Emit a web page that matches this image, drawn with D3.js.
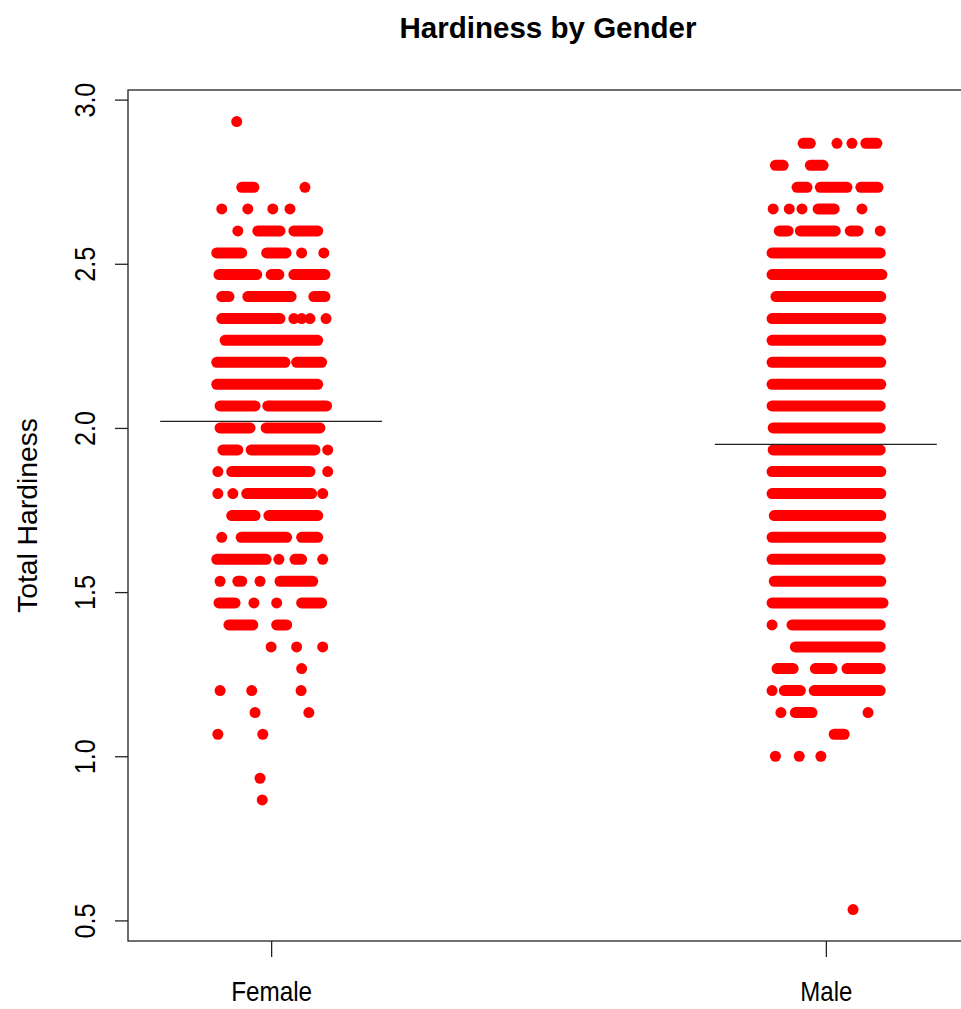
<!DOCTYPE html>
<html>
<head>
<meta charset="utf-8">
<script src="https://cdn.jsdelivr.net/npm/d3@7"></script>
<style>
  body { margin: 0; background: white; }
  text { font-family: "Liberation Sans", Arial, sans-serif; fill: #000; }
</style>
</head>
<body>
<svg width="961" height="1009"></svg>
<script>
const svg = d3.select('svg');
svg.style("background-color", "white");

const width = +svg.attr('width')
const height = +svg.attr('height')

// groups on the x axis, and mean hardiness of each group
const groups = ["Female", "Male"]
const groupMeans = [2.02, 1.95]
const yTicks = [0.5, 1.0, 1.5, 2.0, 2.5, 3.0]

// hardiness levels (score / 15) that have points, top to bottom
const femaleLevels = [2.933, 2.733, 2.667, 2.6, 2.533, 2.467, 2.4, 2.333, 2.267, 2.2, 2.133, 2.067, 2.0,
  1.933, 1.867, 1.8, 1.733, 1.667, 1.6, 1.533, 1.467, 1.4, 1.333, 1.267, 1.2, 1.133, 1.067, 0.933, 0.867]
// jitter offsets of the points on each level: a number is one point,
// a pair is a run of overlapping points from first to last
const femaleJitter = [
  [-0.062],
  [[-0.053, -0.031], 0.061],
  [-0.089, -0.042, 0.003, 0.034],
  [-0.060, [-0.024, 0.016], [0.041, 0.084]],
  [[-0.098, -0.053], [-0.008, 0.027], 0.055, 0.095],
  [[-0.094, -0.026], [0.000, 0.014], [0.041, 0.097]],
  [[-0.089, -0.076], [-0.042, 0.036], [0.077, 0.097]],
  [[-0.089, 0.016], 0.041, 0.055, 0.070, 0.099],
  [[-0.083, 0.084]],
  [[-0.098, 0.025], [0.046, 0.091]],
  [[-0.098, 0.084]],
  [[-0.092, -0.029], [-0.006, 0.100]],
  [[-0.092, -0.038], [-0.009, 0.088]],
  [[-0.087, -0.060], [-0.036, 0.079], 0.102],
  [-0.096, [-0.071, 0.070], 0.102],
  [-0.096, -0.069, [-0.044, 0.073], 0.093],
  [[-0.071, -0.029], [-0.004, 0.084]],
  [-0.089, [-0.054, 0.028], [0.055, 0.084]],
  [[-0.098, -0.009], 0.014, [0.043, 0.055], 0.093],
  [-0.092, [-0.060, -0.053], -0.020, [0.016, 0.075]],
  [[-0.094, -0.065], -0.031, 0.010, [0.055, 0.091]],
  [[-0.076, -0.033], [0.010, 0.028]],
  [0.000, 0.046, 0.093],
  [0.055],
  [-0.092, -0.035, 0.054],
  [-0.029, 0.068],
  [-0.096, -0.015],
  [-0.020],
  [-0.016]
]

const maleLevels = [2.867, 2.8, 2.733, 2.667, 2.6, 2.533, 2.467, 2.4, 2.333, 2.267, 2.2, 2.133, 2.067, 2.0,
  1.933, 1.867, 1.8, 1.733, 1.667, 1.6, 1.533, 1.467, 1.4, 1.333, 1.267, 1.2, 1.133, 1.067, 1.0, 0.533]
const maleJitter = [
  [[-0.041, -0.028], 0.020, 0.047, [0.072, 0.092]],
  [[-0.091, -0.077], [-0.028, -0.005]],
  [[-0.052, -0.034], [-0.010, 0.038], [0.063, 0.094]],
  [-0.095, -0.066, -0.043, [-0.014, 0.015], 0.065],
  [[-0.084, -0.068], [-0.046, 0.017], [0.044, 0.058], 0.098],
  [[-0.097, 0.098]],
  [[-0.097, 0.101]],
  [[-0.090, 0.099]],
  [[-0.097, 0.099]],
  [[-0.097, 0.099]],
  [[-0.097, 0.099]],
  [[-0.097, 0.099]],
  [[-0.097, 0.098]],
  [[-0.095, 0.098]],
  [[-0.095, 0.098]],
  [[-0.097, 0.099]],
  [[-0.097, 0.099]],
  [[-0.093, 0.099]],
  [[-0.097, 0.099]],
  [[-0.097, 0.098]],
  [[-0.093, 0.099]],
  [[-0.097, 0.103]],
  [-0.097, [-0.061, 0.098]],
  [[-0.055, 0.098]],
  [[-0.088, -0.059], [-0.019, 0.011], [0.038, 0.098]],
  [-0.097, [-0.075, -0.046], [-0.021, 0.098]],
  [-0.081, [-0.055, -0.025], 0.076],
  [[0.015, 0.033]],
  [-0.091, -0.048, -0.009],
  [0.049]
]

const render = () => {
    const margin = {top:90,bottom:68,right:-8,left:128}
    const innerWidth = width-margin.left-margin.right;
    const innerHeight = height-margin.top-margin.bottom;
    const r = 5.5

    // R style: data range padded by 4%
    const yLo = 0.5333, yHi = 2.9333
    const pad = (yHi-yLo)*0.04
    const yScale = d3.scaleLinear()
                    .domain([yLo-pad, yHi+pad])
                    .range([innerHeight, 0]);
    const xScale = d3.scaleLinear()
                    .domain([0.742, 2.258])
                    .range([0, innerWidth]);

    const g = svg.append('g')
                .attr('transform',`translate(${margin.left},${margin.top})`);

    // turn the level/jitter arrays into runs
    const runs = []
    const addGroup = (gi, levels, jitter) => {
        levels.forEach((lv, i) => {
            jitter[i].forEach(j => {
                const a = Array.isArray(j) ? j[0] : j
                const b = Array.isArray(j) ? j[1] : j
                runs.push({x0: gi+1+a, x1: gi+1+b, y: lv})
            })
        })
    }
    addGroup(0, femaleLevels, femaleJitter)
    addGroup(1, maleLevels, maleJitter)

    g.selectAll('line.run')
    .data(runs.filter(d => d.x1 > d.x0))
    .enter()
    .append('line')
    .attr('class','run')
    .attr('x1',d=>xScale(d.x0))
    .attr('x2',d=>xScale(d.x1))
    .attr('y1',d=>yScale(d.y))
    .attr('y2',d=>yScale(d.y))
    .attr('stroke','#ff0000')
    .attr('stroke-width',r*2)
    .attr('stroke-linecap','round');

    g.selectAll('circle')
    .data(runs.filter(d => d.x1 === d.x0))
    .enter()
    .append('circle')
    .attr('cx',d=>xScale(d.x0))
    .attr('cy',d=>yScale(d.y))
    .attr('r',r)
    .attr('fill','#ff0000');

    // mean lines
    g.selectAll('line.mean')
    .data(groupMeans)
    .enter()
    .append('line')
    .attr('class','mean')
    .attr('x1',(d,i)=>xScale(i+1-0.2))
    .attr('x2',(d,i)=>xScale(i+1+0.2))
    .attr('y1',d=>yScale(d))
    .attr('y2',d=>yScale(d))
    .attr('stroke','#222')
    .attr('stroke-width',1.2);

    // frame
    g.append('rect')
    .attr('x',0).attr('y',0)
    .attr('width',innerWidth).attr('height',innerHeight)
    .attr('fill','none').attr('stroke','#222').attr('stroke-width',1.3);

    const yAxis = g.append('g')
        .call(d3.axisLeft(yScale).tickValues(yTicks).tickSize(13).tickFormat(d3.format('.1f')));
    yAxis.select('.domain').remove();
    yAxis.selectAll('line').attr('stroke','#222').attr('stroke-width',1.3);
    yAxis.selectAll('text')
        .attr('transform','rotate(-90)')
        .attr('x',0).attr('y',-33).attr('dy',null)
        .attr('text-anchor','middle')
        .attr('textLength',35).attr('lengthAdjust','spacingAndGlyphs')
        .style('font-size','29px').style('fill','#000');

    const xAxis = g.append('g')
        .attr('transform',`translate(0,${innerHeight})`)
        .call(d3.axisBottom(xScale).tickValues([1,2]).tickSize(16).tickFormat(d=>groups[d-1]));
    xAxis.select('.domain').remove();
    xAxis.selectAll('line').attr('stroke','#222').attr('stroke-width',1.3);
    xAxis.selectAll('text')
        .attr('y',60).attr('dy',null)
        .attr('textLength',(d)=>d===1?81:52).attr('lengthAdjust','spacingAndGlyphs')
        .style('font-size','28px').style('fill','#000');

    svg.append('text')
        .attr('x',548).attr('y',38)
        .attr('text-anchor','middle')
        .attr('textLength',297).attr('lengthAdjust','spacingAndGlyphs')
        .style('font-size','29px').style('font-weight','bold')
        .text('Hardiness by Gender');

    svg.append('text')
        .attr('transform',`translate(37,${margin.top+innerHeight/2}) rotate(-90)`)
        .attr('text-anchor','middle')
        .attr('textLength',195).attr('lengthAdjust','spacingAndGlyphs')
        .style('font-size','28px')
        .text('Total Hardiness');
};

render()
</script>
</body>
</html>
